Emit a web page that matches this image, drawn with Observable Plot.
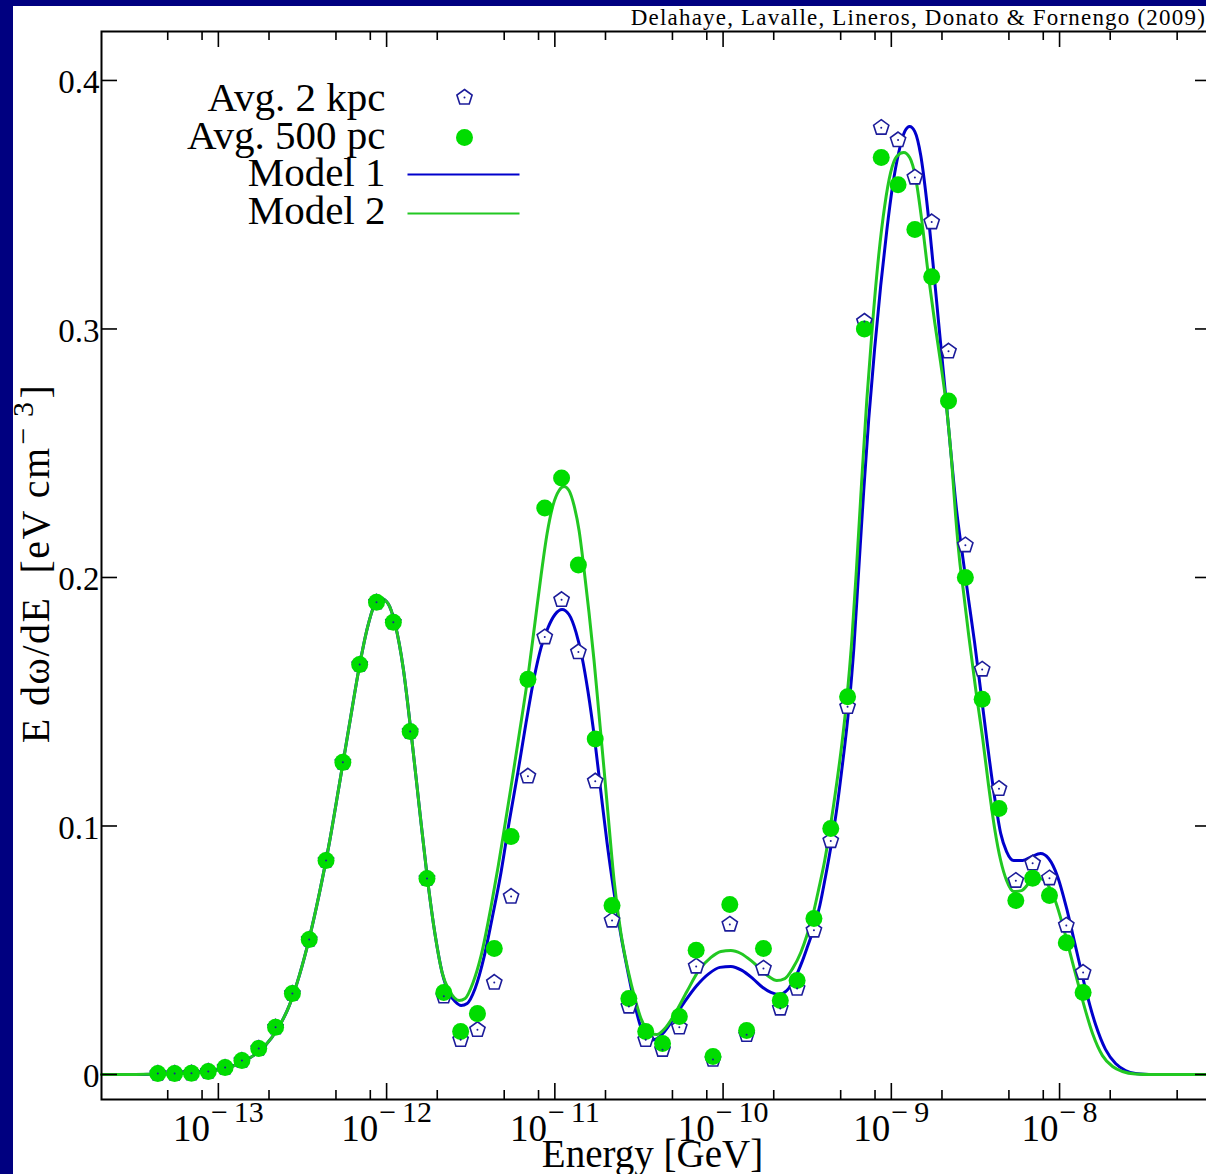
<!DOCTYPE html>
<html>
<head>
<meta charset="utf-8">
<script src="https://cdn.jsdelivr.net/npm/d3@7"></script>
<script src="https://cdn.jsdelivr.net/npm/@observablehq/plot@0.6"></script>
<style>
html, body { margin: 0; padding: 0; background: #000080; overflow: hidden; width: 1206px; height: 1174px; }
#panel { position: absolute; left: 13px; top: 6px; width: 1193px; height: 1168px; background: #fff; overflow: hidden; }
#credit { position: absolute; right: 0; top: 0; font-family: "Liberation Serif", serif; font-size: 23px; line-height: 23px; letter-spacing: 1.2px; white-space: nowrap; color: #000; }
#chart { position: absolute; left: 0; top: 0; }
</style>
</head>
<body>
<div id="panel">
  <div id="chart"></div>
  <div id="credit">Delahaye, Lavalle, Lineros, Donato &amp; Fornengo (2009)</div>
</div>
<script>
// ---------------- data ----------------
const xMajorExps = [-13, -12, -11, -10, -9, -8];
const xMinorTicks = [5e-14, 8e-14, 2e-13, 5e-13, 8e-13, 2e-12, 5e-12, 8e-12, 2e-11, 5e-11, 8e-11,
  2e-10, 5e-10, 8e-10, 2e-9, 5e-9, 8e-9, 2e-8, 5e-8];
const yTicks = [0, 0.1, 0.2, 0.3, 0.4];
const legendLabels = ["Avg. 2 kpc", "Avg. 500 pc", "Model 1", "Model 2"];

// log10(E/GeV) of the averaged points
const pointLogE = [-13.36, -13.26, -13.16, -13.06, -12.96, -12.86, -12.76, -12.66, -12.56, -12.46,
  -12.36, -12.26, -12.16, -12.06, -11.96, -11.86, -11.76, -11.66, -11.56, -11.46,
  -11.36, -11.26, -11.16, -11.06, -10.96, -10.86, -10.76, -10.66, -10.56, -10.46,
  -10.36, -10.26, -10.16, -10.06, -9.96, -9.86, -9.76, -9.66, -9.56, -9.46,
  -9.36, -9.26, -9.16, -9.06, -8.96, -8.86, -8.76, -8.66, -8.56, -8.46,
  -8.36, -8.26, -8.16, -8.06, -7.96, -7.86];
const avg2kpc = [0.0004, 0.0004, 0.0005, 0.0012, 0.0028, 0.0056, 0.0105, 0.019, 0.0326, 0.0543,
  0.0861, 0.1256, 0.165, 0.190, 0.182, 0.138, 0.0789, 0.0315, 0.014, 0.018,
  0.037, 0.0716, 0.120, 0.176, 0.191, 0.170, 0.118, 0.062, 0.0274, 0.014,
  0.010, 0.019, 0.0435, 0.006, 0.0604, 0.016, 0.0427, 0.0266, 0.0346, 0.058,
  0.094, 0.148, 0.303, 0.381, 0.376, 0.361, 0.343, 0.291, 0.213, 0.163,
  0.115, 0.078, 0.085, 0.079, 0.060, 0.041];
const avg500pc = [0.0004, 0.0004, 0.0005, 0.0012, 0.0028, 0.0056, 0.0105, 0.019, 0.0326, 0.0543,
  0.0861, 0.1256, 0.165, 0.190, 0.182, 0.138, 0.0789, 0.033, 0.0173, 0.0245,
  0.0507, 0.0958, 0.159, 0.228, 0.240, 0.205, 0.135, 0.068, 0.0306, 0.0173,
  0.0125, 0.0233, 0.050, 0.0072, 0.0684, 0.0177, 0.0507, 0.0298, 0.0378, 0.0628,
  0.099, 0.152, 0.300, 0.369, 0.358, 0.340, 0.321, 0.271, 0.200, 0.151,
  0.107, 0.070, 0.079, 0.072, 0.053, 0.033];

// Model 1 curve
const model1LogE = [-13.493, -13.398, -13.309, -13.220, -13.131, -13.042, -12.953, -12.863, -12.792, -12.721,
  -12.650, -12.578, -12.519, -12.460, -12.400, -12.341, -12.282, -12.222, -12.163, -12.115,
  -12.074, -12.032, -11.991, -11.949, -11.901, -11.854, -11.806, -11.759, -11.711, -11.670,
  -11.628, -11.593, -11.557, -11.521, -11.474, -11.420, -11.373, -11.320, -11.272, -11.219,
  -11.171, -11.124, -11.082, -11.040, -10.999, -10.957, -10.916, -10.874, -10.838, -10.803,
  -10.761, -10.726, -10.690, -10.648, -10.607, -10.565, -10.524, -10.488, -10.447, -10.405,
  -10.358, -10.298, -10.227, -10.156, -10.084, -10.019, -9.954, -9.888, -9.823, -9.764,
  -9.716, -9.669, -9.621, -9.574, -9.532, -9.496, -9.461, -9.425, -9.390, -9.354,
  -9.324, -9.295, -9.253, -9.223, -9.194, -9.164, -9.134, -9.099, -9.063, -9.027,
  -8.992, -8.956, -8.920, -8.891, -8.861, -8.825, -8.790, -8.754, -8.719, -8.683,
  -8.647, -8.612, -8.576, -8.540, -8.505, -8.469, -8.428, -8.386, -8.350, -8.315,
  -8.273, -8.220, -8.166, -8.113, -8.065, -8.012, -7.958, -7.905, -7.846, -7.786,
  -7.727, -7.667, -7.608, -7.549, -7.472];
const model1Val = [0, 0.0001, 0.0002, 0.0004, 0.0008, 0.0014, 0.0026, 0.0048, 0.0076, 0.0117,
  0.0181, 0.0278, 0.0398, 0.0547, 0.0728, 0.0930, 0.1163, 0.1404, 0.1638, 0.1795,
  0.1887, 0.1915, 0.1895, 0.1811, 0.1634, 0.1372, 0.1078, 0.0797, 0.0559, 0.0410,
  0.0326, 0.0294, 0.0278, 0.0286, 0.0346, 0.0475, 0.0628, 0.0813, 0.1014, 0.1219,
  0.1416, 0.1594, 0.1718, 0.1799, 0.1851, 0.1871, 0.1851, 0.1779, 0.1678, 0.1541,
  0.1336, 0.1135, 0.0934, 0.0732, 0.0559, 0.0410, 0.0278, 0.0189, 0.0137, 0.0141,
  0.0165, 0.0221, 0.0294, 0.0358, 0.0406, 0.0431, 0.0435, 0.0419, 0.0386, 0.0350,
  0.0330, 0.0322, 0.0338, 0.0386, 0.0451, 0.0519, 0.0588, 0.0680, 0.0801, 0.0938,
  0.1070, 0.1223, 0.1473, 0.1714, 0.2028, 0.2350, 0.2640, 0.2922, 0.3175, 0.3396,
  0.3577, 0.3710, 0.3795, 0.3815, 0.3795, 0.3698, 0.3517, 0.3276, 0.3026, 0.2773,
  0.2511, 0.2270, 0.2085, 0.1907, 0.1738, 0.1545, 0.1324, 0.1115, 0.0970, 0.0897,
  0.0861, 0.0861, 0.0877, 0.0889, 0.0869, 0.0797, 0.0668, 0.0515, 0.0346, 0.0201,
  0.0101, 0.0044, 0.0016, 0.0004, 0];

// Model 2 curve
const model2LogE = [-13.695, -13.493, -13.398, -13.309, -13.220, -13.131, -13.042, -12.953, -12.863, -12.792,
  -12.721, -12.650, -12.578, -12.519, -12.460, -12.400, -12.341, -12.282, -12.222, -12.163,
  -12.115, -12.074, -12.032, -11.991, -11.949, -11.901, -11.854, -11.806, -11.759, -11.711,
  -11.670, -11.628, -11.599, -11.569, -11.533, -11.486, -11.438, -11.379, -11.337, -11.302,
  -11.260, -11.213, -11.159, -11.118, -11.082, -11.046, -11.011, -10.975, -10.945, -10.916,
  -10.886, -10.856, -10.827, -10.797, -10.767, -10.738, -10.708, -10.678, -10.648, -10.607,
  -10.565, -10.524, -10.488, -10.458, -10.429, -10.393, -10.346, -10.286, -10.215, -10.144,
  -10.072, -10.013, -9.954, -9.894, -9.835, -9.776, -9.728, -9.681, -9.633, -9.586,
  -9.538, -9.502, -9.467, -9.431, -9.396, -9.366, -9.324, -9.295, -9.265, -9.235,
  -9.206, -9.176, -9.146, -9.110, -9.075, -9.039, -9.004, -8.968, -8.926, -8.891,
  -8.855, -8.819, -8.778, -8.742, -8.707, -8.671, -8.641, -8.618, -8.594, -8.570,
  -8.540, -8.499, -8.457, -8.422, -8.386, -8.350, -8.315, -8.273, -8.226, -8.172,
  -8.119, -8.071, -8.024, -7.976, -7.923, -7.863, -7.804, -7.745, -7.685, -7.626,
  -7.549, -7.460, -7.100];
const model2Val = [0, 0, 0.0001, 0.0002, 0.0004, 0.0008, 0.0014, 0.0026, 0.0048, 0.0076,
  0.0117, 0.0181, 0.0278, 0.0398, 0.0547, 0.0728, 0.0930, 0.1163, 0.1404, 0.1638,
  0.1795, 0.1887, 0.1915, 0.1895, 0.1811, 0.1634, 0.1372, 0.1078, 0.0797, 0.0559,
  0.0410, 0.0338, 0.0310, 0.0298, 0.0306, 0.0370, 0.0479, 0.0676, 0.0837, 0.0982,
  0.1159, 0.1364, 0.1606, 0.1819, 0.2008, 0.2177, 0.2290, 0.2350, 0.2366, 0.2350,
  0.2290, 0.2189, 0.2036, 0.1859, 0.1666, 0.1453, 0.1231, 0.1002, 0.0781, 0.0567,
  0.0419, 0.0306, 0.0225, 0.0185, 0.0165, 0.0161, 0.0185, 0.0245, 0.0334, 0.0419,
  0.0471, 0.0495, 0.0499, 0.0487, 0.0459, 0.0423, 0.0394, 0.0378, 0.0386, 0.0427,
  0.0491, 0.0559, 0.0640, 0.0748, 0.0861, 0.0982, 0.1175, 0.1324, 0.1509, 0.1746,
  0.2048, 0.2390, 0.2712, 0.3034, 0.3296, 0.3497, 0.3630, 0.3694, 0.3710, 0.3690,
  0.3606, 0.3437, 0.3207, 0.3026, 0.2865, 0.2680, 0.2463, 0.2250, 0.2068, 0.1936,
  0.1767, 0.1553, 0.1352, 0.1163, 0.0990, 0.0861, 0.0781, 0.0736, 0.0740, 0.0777,
  0.0789, 0.0765, 0.0696, 0.0588, 0.0451, 0.0298, 0.0165, 0.0076, 0.0032, 0.0012,
  0.0002, 0, 0];

// ---------------- styling ----------------
const BLUE = "#0000cc";
const GREEN_LINE = "#22c822";
const GREEN_DOT = "#00dc00";
const PENT = "#1c1c9a";
const FONT = "Liberation Serif";

const pts2 = pointLogE.map((e, i) => ({E: 10 ** e, v: avg2kpc[i]}));
const pts500 = pointLogE.map((e, i) => ({E: 10 ** e, v: avg500pc[i]}));
const m1 = model1LogE.map((e, i) => ({E: 10 ** e, v: model1Val[i]}));
const m2 = model2LogE.map((e, i) => ({E: 10 ** e, v: model2Val[i]}));

const pentagon = {
  draw(ctx, size) {
    const r = Math.sqrt(size / Math.PI);
    for (let i = 0; i < 5; i++) {
      const a = -Math.PI / 2 + i * 2 * Math.PI / 5;
      const px = r * Math.cos(a), py = r * Math.sin(a);
      if (i === 0) ctx.moveTo(px, py); else ctx.lineTo(px, py);
    }
    ctx.closePath();
  }
};
const legendLine = {
  draw(ctx) { ctx.moveTo(-56, 0); ctx.lineTo(56, 0); }
};

const W = 1205, H = 1168, ML = 88, MR = 7, MT = 25, MB = 75;
const FW = W - ML - MR, FH = H - MT - MB;
const Y_TITLE = "E dω/dE";
const X_BASE = "10";

const chart = Plot.plot({
  width: W, height: H,
  marginLeft: ML, marginRight: MR, marginTop: MT, marginBottom: MB,
  style: "font-family: 'Liberation Serif', serif; max-width: none; background: white; overflow: visible;",
  x: {type: "log", domain: [2.02e-14, 8e-8], axis: null},
  y: {domain: [-0.01006, 0.4197], axis: null},
  marks: [
    // model curves
    Plot.line(m1, {x: "E", y: "v", stroke: BLUE, strokeWidth: 3, curve: "monotone-x"}),
    Plot.line(m2, {x: "E", y: "v", stroke: GREEN_LINE, strokeWidth: 3, curve: "monotone-x"}),
    // data points
    Plot.dot(pts2, {x: "E", y: "v", symbol: pentagon, r: 8, stroke: PENT, strokeWidth: 1.6, fill: "white"}),
    Plot.dot(pts500, {x: "E", y: "v", r: 8.5, fill: GREEN_DOT, stroke: "none"}),
    Plot.dot(pts2, {x: "E", y: "v", r: 1, fill: PENT, stroke: "none"}),
    // frame and inward ticks
    Plot.frame({stroke: "black", strokeWidth: 2}),
    Plot.tickX(xMajorExps, {x: d => 10 ** d, insetTop: FH - 16, stroke: "black", strokeWidth: 1.6}),
    Plot.tickX(xMajorExps, {x: d => 10 ** d, insetBottom: FH - 16, stroke: "black", strokeWidth: 1.6}),
    Plot.tickX(xMinorTicks, {x: d => d, insetTop: FH - 9, stroke: "black", strokeWidth: 1.6}),
    Plot.tickX(xMinorTicks, {x: d => d, insetBottom: FH - 9, stroke: "black", strokeWidth: 1.6}),
    Plot.tickY(yTicks, {y: d => d, insetRight: FW - 16, stroke: "black", strokeWidth: 1.6}),
    Plot.tickY(yTicks, {y: d => d, insetLeft: FW - 16, stroke: "black", strokeWidth: 1.6}),
    // tick labels
    Plot.text(yTicks, {y: d => d, frameAnchor: "left", text: d => d === 0 ? "0" : d.toFixed(1),
      textAnchor: "end", lineAnchor: "bottom", dx: -2, dy: 13, fontSize: 33, fontFamily: FONT, fill: "black"}),
    Plot.text(xMajorExps, {x: d => 10 ** d, frameAnchor: "bottom", text: d => X_BASE,
      textAnchor: "middle", lineAnchor: "bottom", dy: 41, fontSize: 37, fontFamily: FONT, fill: "black"}),
    // axis titles
    Plot.text(["Energy [GeV]"], {frameAnchor: "bottom", text: d => d, textAnchor: "middle", lineAnchor: "bottom",
      dx: -4, dy: 67, fontSize: 39, fontFamily: FONT, fill: "black"}),
    Plot.text([Y_TITLE], {frameAnchor: "left", text: d => d, rotate: -90,
      textAnchor: "middle", lineAnchor: "bottom", dx: -53, dy: -2, fontSize: 40, fontFamily: FONT, fill: "black"}),
    // legend
    ...legendLabels.map((lab, i) => Plot.text([lab], {frameAnchor: "top-left", text: d => d,
      textAnchor: "end", lineAnchor: "bottom", dx: 284, dy: [79, 117, 154, 192][i],
      fontSize: 41, fontFamily: FONT, fill: "black"})),
    Plot.dot([legendLabels[0]], {frameAnchor: "top-left", dx: 363, dy: 66, symbol: pentagon, r: 8,
      stroke: PENT, strokeWidth: 1.6, fill: "white"}),
    Plot.dot([legendLabels[0]], {frameAnchor: "top-left", dx: 363, dy: 66, r: 1, fill: PENT, stroke: "none"}),
    Plot.dot([legendLabels[1]], {frameAnchor: "top-left", dx: 363, dy: 106, r: 8.5, fill: GREEN_DOT, stroke: "none"}),
    Plot.dot([legendLabels[2]], {frameAnchor: "top-left", dx: 362, dy: 143, symbol: legendLine, stroke: BLUE, strokeWidth: 2, fill: "none"}),
    Plot.dot([legendLabels[3]], {frameAnchor: "top-left", dx: 362, dy: 182, symbol: legendLine, stroke: GREEN_LINE, strokeWidth: 2, fill: "none"})
  ]
});

// superscripts on tick labels and y title (found by their text)
const NS = "http://www.w3.org/2000/svg";
const allTexts = Array.from(chart.querySelectorAll("text"));
allTexts.filter(t => t.textContent === X_BASE).forEach((t, j) => {
  const e = xMajorExps[j];
  const m = document.createElementNS(NS, "tspan");
  m.setAttribute("dx", 1); m.setAttribute("dy", -19); m.setAttribute("font-size", 30);
  m.textContent = "\u2212";
  const d = document.createElementNS(NS, "tspan");
  d.setAttribute("dx", 6); d.setAttribute("font-size", 30);
  d.textContent = String(-e);
  t.append(m, d);
});
allTexts.filter(t => t.textContent === Y_TITLE).forEach(t => {
  t.setAttribute("letter-spacing", "1.5");
  t.textContent = Y_TITLE + "\u00a0\u00a0[eV cm";
  const s = document.createElementNS(NS, "tspan");
  s.setAttribute("dx", 2); s.setAttribute("dy", -16); s.setAttribute("font-size", 30);
  s.textContent = "\u2212 3";
  const b = document.createElementNS(NS, "tspan");
  b.setAttribute("dx", 2); b.setAttribute("dy", 16);
  b.textContent = "]";
  t.append(s, b);
});

document.getElementById("chart").appendChild(chart);
</script>
</body>
</html>
